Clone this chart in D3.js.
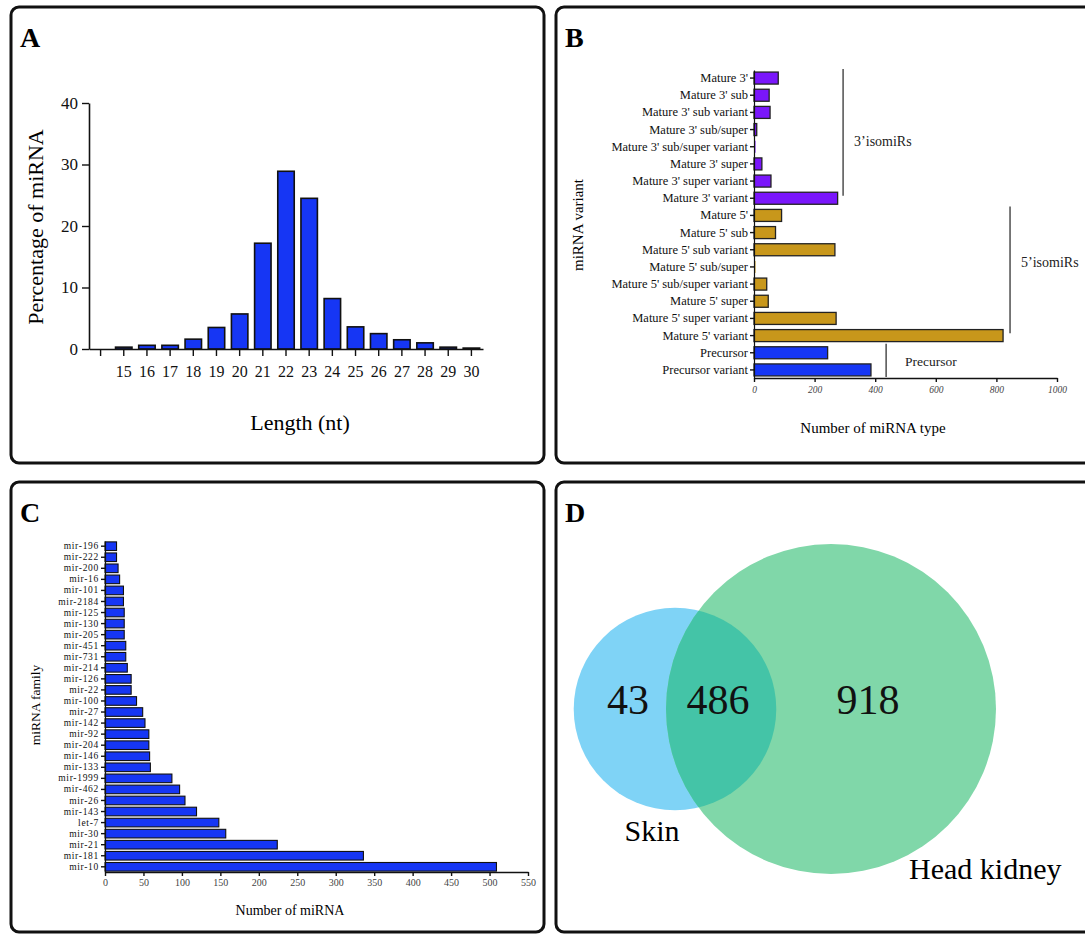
<!DOCTYPE html>
<html>
<head>
<meta charset="utf-8">
<script src="https://cdn.jsdelivr.net/npm/d3@7"></script>
<style>
  body { margin: 0; background: #fff; }
  svg text { font-family: "Liberation Serif", "DejaVu Serif", serif; }
</style>
</head>
<body>
<svg id="fig" width="1085" height="936"></svg>
<script>
// A: length distribution
const lengthLabels = ["", "15", "16", "17", "18", "19", "20", "21", "22", "23", "24", "25", "26", "27", "28", "29", "30"];
const lengthPercent = [0, 0.3, 0.6, 0.6, 1.6, 3.5, 5.7, 17.2, 28.9, 24.5, 8.2, 3.6, 2.5, 1.5, 1.0, 0.3, 0.15];
const percentTicks = [0, 10, 20, 30, 40];

// B: miRNA variant types
const variantNames = [
    "Mature 3'", "Mature 3' sub", "Mature 3' sub variant", "Mature 3' sub/super",
    "Mature 3' sub/super variant", "Mature 3' super", "Mature 3' super variant", "Mature 3' variant",
    "Mature 5'", "Mature 5' sub", "Mature 5' sub variant", "Mature 5' sub/super",
    "Mature 5' sub/super variant", "Mature 5' super", "Mature 5' super variant", "Mature 5' variant",
    "Precursor", "Precursor variant"
];
const variantCounts = [80, 50, 53, 9, 5, 26, 56, 276, 91, 71, 267, 5, 42, 47, 271, 822, 243, 386];
const variantGroup = ["3p", "3p", "3p", "3p", "3p", "3p", "3p", "3p",
    "5p", "5p", "5p", "5p", "5p", "5p", "5p", "5p", "pre", "pre"];
const variantTicks = [0, 200, 400, 600, 800, 1000];
const groupLabels = ["3’isomiRs", "5’isomiRs", "Precursor"];
const groupKeys = ["3p", "5p", "pre"];
const groupLineAt = [294, 845, 436]; // x position of bracket, in miRNA counts

// C: miRNA families
const familyNames = [
    "mir-196", "mir-222", "mir-200", "mir-16", "mir-101", "mir-2184", "mir-125", "mir-130",
    "mir-205", "mir-451", "mir-731", "mir-214", "mir-126", "mir-22", "mir-100", "mir-27",
    "mir-142", "mir-92", "mir-204", "mir-146", "mir-133", "mir-1999", "mir-462", "mir-26",
    "mir-143", "let-7", "mir-30", "mir-21", "mir-181", "mir-10"
];
const familyCounts = [15, 15, 17, 19, 24, 24, 25, 25, 25, 27, 27, 29, 34, 34, 41, 49,
    52, 57, 57, 58, 59, 87, 97, 104, 119, 148, 157, 224, 336, 509];
const familyTicks = [0, 50, 100, 150, 200, 250, 300, 350, 400, 450, 500, 550];

// D: Venn
const vennLabels = ["Skin", "Head kidney"];
const vennCounts = [43, 486, 918]; // skin only, shared, head kidney only

const serif = "'Liberation Serif', 'DejaVu Serif', serif";
const svg = d3.select("#fig").attr("font-family", serif);
svg.append("rect").attr("width", 1085).attr("height", 936).attr("fill", "#fff");

const blue = "#1636f4";
const purple = "#7a16fb";
const gold = "#c8971b";

// panel frames
const frames = [
    { x: 11, y: 7, w: 533, h: 456, label: "A" },
    { x: 556, y: 7, w: 545, h: 456, label: "B" },
    { x: 11, y: 482, w: 533, h: 450, label: "C" },
    { x: 556, y: 482, w: 545, h: 450, label: "D" },
];
frames.forEach((f) => {
    svg.append("rect")
        .attr("x", f.x).attr("y", f.y)
        .attr("width", f.w).attr("height", f.h)
        .attr("rx", 8)
        .attr("fill", "none")
        .attr("stroke", "#111")
        .attr("stroke-width", 3);
    svg.append("text")
        .attr("x", f.x + 9)
        .attr("y", f.y + 40)
        .style("font-size", "28px")
        .style("font-weight", "bold")
        .text(f.label);
});

function styleAxis(g, size) {
    g.attr("font-family", serif);
    g.select(".domain").attr("stroke", "#111").attr("stroke-width", 1.6);
    g.selectAll(".tick line").attr("stroke", "#111").attr("stroke-width", 1.4);
    g.selectAll(".tick text")
        .attr("fill", "#111")
        .style("font-size", size + "px");
}

// ---------- Panel A ----------
{
    const x = d3.scaleBand()
        .domain(lengthLabels)
        .range([89, 483])
        .paddingInner(0.29)
        .paddingOuter(0.145);
    const y = d3.scaleLinear().domain([0, 40]).range([349, 103]);

    svg.append("g")
        .selectAll("rect")
        .data(lengthLabels.map((l, i) => ({ l, v: lengthPercent[i] })).filter((d) => d.v > 0))
        .join("rect")
        .attr("x", (d) => x(d.l))
        .attr("y", (d) => y(d.v))
        .attr("width", x.bandwidth())
        .attr("height", (d) => y(0) - y(d.v))
        .attr("fill", blue)
        .attr("stroke", "#111")
        .attr("stroke-width", 1.6);

    svg.append("g")
        .attr("transform", "translate(0,349)")
        .call(d3.axisBottom(x).tickSize(7).tickSizeOuter(0).tickPadding(10))
        .call((g) => styleAxis(g, 16));

    svg.append("g")
        .attr("transform", "translate(89,0)")
        .call(d3.axisLeft(y).tickValues(percentTicks).tickSize(7).tickSizeOuter(0).tickPadding(4))
        .call((g) => styleAxis(g, 17));

    svg.append("text")
        .attr("transform", "translate(43,227) rotate(-90)")
        .attr("text-anchor", "middle")
        .style("font-size", "22px")
        .text("Percentage of miRNA");

    svg.append("text")
        .attr("x", 300).attr("y", 430)
        .attr("text-anchor", "middle")
        .style("font-size", "22px")
        .text("Length (nt)");
}

// ---------- Panel B ----------
{
    const x = d3.scaleLinear().domain([0, 1000]).range([754, 1057]);
    const y = d3.scaleBand().domain(variantNames).range([70, 378]).paddingInner(0.3).paddingOuter(0.12);
    const color = d3.scaleOrdinal().domain(groupKeys).range([purple, gold, blue]);

    svg.append("g")
        .selectAll("rect")
        .data(variantNames.map((n, i) => ({ n, v: variantCounts[i], g: variantGroup[i] })))
        .join("rect")
        .attr("x", x(0))
        .attr("y", (d) => y(d.n))
        .attr("width", (d) => x(d.v) - x(0))
        .attr("height", y.bandwidth())
        .attr("fill", (d) => color(d.g))
        .attr("stroke", (d) => (d.v > 8 ? "#222" : "none"))
        .attr("stroke-width", 1.3);

    svg.append("g")
        .attr("transform", "translate(0,378)")
        .call(d3.axisBottom(x).tickValues(variantTicks).tickFormat(d3.format("d"))
            .tickSize(4).tickSizeOuter(0).tickPadding(4))
        .call((g) => styleAxis(g, 9.5))
        .call((g) => g.selectAll(".tick text").style("font-style", "italic").attr("fill", "#444"));

    svg.append("g")
        .attr("transform", "translate(754,0)")
        .call(d3.axisLeft(y).tickSize(4).tickSizeOuter(0).tickPadding(2))
        .call((g) => styleAxis(g, 12.5))
        .call((g) => g.select(".domain").attr("stroke-width", 1.2));

    // group brackets
    const labelShift = { "3p": 14, "5p": -3, "pre": 6 };
    groupKeys.forEach((k, i) => {
        const members = variantNames.filter((n, j) => variantGroup[j] === k);
        const first = members[0];
        const last = members[members.length - 1];
        const y1 = y(first) - 3;
        const y2 = k === "pre" ? 377 : y(last) + y.bandwidth() * 0.3;
        const lx = x(groupLineAt[i]);
        svg.append("line")
            .attr("x1", lx).attr("x2", lx)
            .attr("y1", y1).attr("y2", y2)
            .attr("stroke", "#333")
            .attr("stroke-width", 1.3);
        svg.append("text")
            .attr("x", lx + (k === "pre" ? 19 : 11))
            .attr("y", (y1 + y2) / 2 + labelShift[k])
            .style("font-size", k === "pre" ? "13.5px" : "14px")
            .attr("fill", "#222")
            .text(groupLabels[i]);
    });

    svg.append("text")
        .attr("transform", "translate(583,225) rotate(-90)")
        .attr("text-anchor", "middle")
        .style("font-size", "15px")
        .text("miRNA variant");

    svg.append("text")
        .attr("x", 873).attr("y", 433)
        .attr("text-anchor", "middle")
        .style("font-size", "15px")
        .text("Number of miRNA type");
}

// ---------- Panel C ----------
{
    const x = d3.scaleLinear().domain([0, 550]).range([105, 528]);
    const y = d3.scaleBand().domain(familyNames).range([541, 872]).paddingInner(0.22).paddingOuter(0.08);

    svg.append("g")
        .selectAll("rect")
        .data(familyNames.map((n, i) => ({ n, v: familyCounts[i] })))
        .join("rect")
        .attr("x", x(0))
        .attr("y", (d) => y(d.n))
        .attr("width", (d) => x(d.v) - x(0))
        .attr("height", y.bandwidth())
        .attr("fill", blue)
        .attr("stroke", "#111")
        .attr("stroke-width", 1.1);

    svg.append("g")
        .attr("transform", "translate(0,872)")
        .call(d3.axisBottom(x).tickValues(familyTicks).tickSize(4).tickSizeOuter(0).tickPadding(3))
        .call((g) => styleAxis(g, 10))
        .call((g) => g.selectAll(".tick text").attr("fill", "#444"));

    svg.append("g")
        .attr("transform", "translate(105,0)")
        .call(d3.axisLeft(y).tickSize(4).tickSizeOuter(0).tickPadding(2))
        .call((g) => styleAxis(g, 9.5))
        .call((g) => g.selectAll(".tick text").style("letter-spacing", "0.7px"))
        .call((g) => g.select(".domain").attr("stroke-width", 1.2));

    svg.append("text")
        .attr("transform", "translate(40,705) rotate(-90)")
        .attr("text-anchor", "middle")
        .style("font-size", "13.5px")
        .text("miRNA family");

    svg.append("text")
        .attr("x", 290).attr("y", 915)
        .attr("text-anchor", "middle")
        .style("font-size", "14px")
        .text("Number of miRNA");
}

// ---------- Panel D ----------
{
    const skinTotal = vennCounts[0] + vennCounts[1];
    const kidneyTotal = vennCounts[1] + vennCounts[2];
    const r = d3.scaleSqrt().domain([0, kidneyTotal]).range([0, 165]);
    const cy = 709;
    const skin = { cx: 675, r: r(skinTotal) };
    const kidney = { cx: 831, r: r(kidneyTotal) };

    const defs = svg.append("defs");
    defs.append("clipPath").attr("id", "kidneyClip")
        .append("circle").attr("cx", kidney.cx).attr("cy", cy).attr("r", kidney.r);

    svg.append("circle")
        .attr("cx", skin.cx).attr("cy", cy).attr("r", skin.r)
        .attr("fill", "#7fd3f6");
    svg.append("circle")
        .attr("cx", kidney.cx).attr("cy", cy).attr("r", kidney.r)
        .attr("fill", "#80d7a9");
    svg.append("circle")
        .attr("cx", skin.cx).attr("cy", cy).attr("r", skin.r)
        .attr("clip-path", "url(#kidneyClip)")
        .attr("fill", "#44c4a7");

    const numX = [628, 718, 868];
    vennCounts.forEach((c, i) => {
        svg.append("text")
            .attr("x", numX[i]).attr("y", 714)
            .attr("text-anchor", "middle")
            .style("font-size", "42px")
            .attr("fill", "#111")
            .text(c);
    });

    svg.append("text")
        .attr("x", 652).attr("y", 841)
        .attr("text-anchor", "middle")
        .style("font-size", "30px")
        .text(vennLabels[0]);
    svg.append("text")
        .attr("x", 909).attr("y", 879)
        .style("font-size", "30px")
        .text(vennLabels[1]);
}
</script>
</body>
</html>
